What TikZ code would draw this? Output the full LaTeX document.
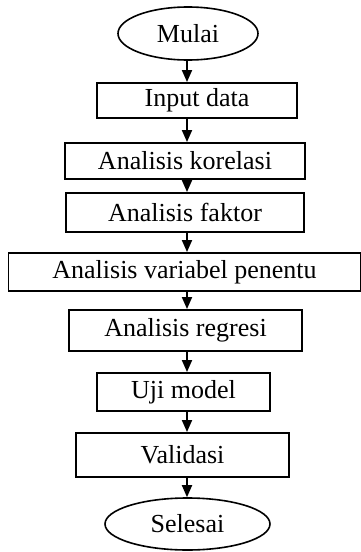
\documentclass[tikz,border=0pt]{standalone}
\usepackage{fontspec}
\setmainfont{Liberation Serif}
\usetikzlibrary{shapes.geometric,arrows.meta,positioning}
\tikzset{
  prosesbox/.style args={#1,#2}{
  draw=black,
  rectangle,
  line width=1.9pt,
  inner sep=0pt,
  minimum width=#1pt,
  minimum height=#2pt,
  font=\fontsize{26}{30}\selectfont
  },
  terminal/.style args={#1,#2}{
  draw=black,
  ellipse,
  line width=1.6pt,
  inner sep=0pt,
  minimum width=#1pt,
  minimum height=#2pt,
  font=\fontsize{26}{30}\selectfont
  },
  alur/.style={line width=1.8pt,-{Triangle[length=12pt,width=10pt]}}
}
\begin{document}
\begin{tikzpicture}[x=1pt,y=-1pt]
  \useasboundingbox (0,0) rectangle (361,552);

  \node [terminal={140,53}] (mulai) at (188,33.5) {Mulai};
  \node [prosesbox={200,35}] (input) at (197,100.5) {Input data};
  \node [prosesbox={240,36}] (korelasi) at (185,161) {Analisis korelasi};
  \node [prosesbox={238,39}] (faktor) at (185,212.5) {Analisis faktor};
  \node [prosesbox={352,38}] (variabel) at (184.5,272) {Analisis variabel penentu};
  \node [prosesbox={233,41}] (regresi) at (185.5,330.5) {Analisis regresi};
  \node [prosesbox={173,38}] (uji) at (183.5,392) {Uji model};
  \node [prosesbox={213,44}] (validasi) at (182.5,455) {Validasi};
  \node [terminal={165,52}] (selesai) at (187.5,524) {Selesai};

  \coordinate (ax) at (187,0);
  \draw [alur] (ax |- mulai.south) -- (ax |- input.north);
  \draw [alur] (ax |- input.south) -- (ax |- korelasi.north);
  \draw [alur] (ax |- korelasi.south) -- (ax |- faktor.north);
  \draw [alur] (ax |- faktor.south) -- (ax |- variabel.north);
  \draw [alur] (ax |- variabel.south) -- (ax |- regresi.north);
  \draw [alur] (ax |- regresi.south) -- (ax |- uji.north);
  \draw [alur] (ax |- uji.south) -- (ax |- validasi.north);
  \draw [alur] (ax |- validasi.south) -- (ax |- selesai.north);
\end{tikzpicture}
\end{document}
